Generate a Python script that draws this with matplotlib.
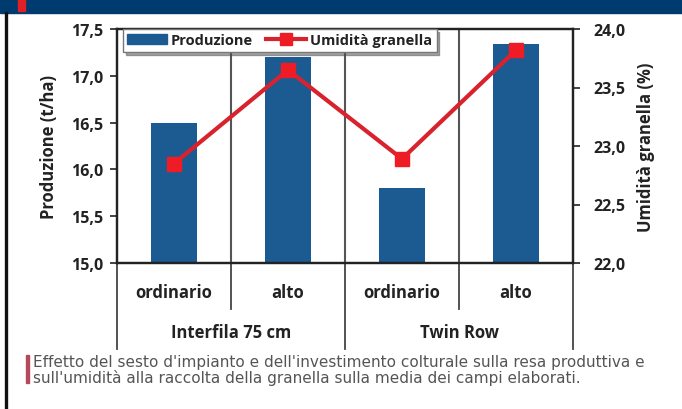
import matplotlib
matplotlib.use("Agg")
from matplotlib import pyplot as plt
from matplotlib.patches import Rectangle, Patch
from matplotlib.lines import Line2D
from matplotlib.ticker import FuncFormatter
import matplotlib.transforms as mtransforms

categories = ["ordinario", "alto", "ordinario", "alto"]
groups = ["Interfila 75 cm", "Twin Row"]
produzione = [16.5, 17.2, 15.8, 17.34]
umidita = [22.85, 23.65, 22.89, 23.82]
left_ticks = [15.0, 15.5, 16.0, 16.5, 17.0, 17.5]
right_ticks = [22.0, 22.5, 23.0, 23.5, 24.0]
caption = ("Effetto del sesto d'impianto e dell'investimento colturale sulla resa produttiva e\n"
           "sull'umidità alla raccolta della granella sulla media dei campi elaborati.")

plt.rcParams['font.family'] = ['Open Sans', 'DejaVu Sans']

W, H = 682, 410
fig = plt.figure(figsize=(W / 100, H / 100), dpi=100)

# top banner and left rule
fig.patches.append(Rectangle((0, 1 - 14 / H), 1, 14 / H, transform=fig.transFigure,
                             color="#003b6f", zorder=0))
fig.patches.append(Rectangle((18 / W, 1 - 12 / H), 7 / W, 12 / H, transform=fig.transFigure,
                             color="#e01f26", zorder=1))
fig.lines.append(Line2D([6 / W, 6 / W], [0, 1 - 14 / H], transform=fig.transFigure,
                        color="#111111", lw=2.4))

ax = fig.add_axes([117 / W, 1 - 264 / H, 456 / W, 234 / H])
x = list(range(len(categories)))
bar_color = "#1c5a92"
line_color = "#d8232e"

ax.bar(x, produzione, width=0.4, color=bar_color, zorder=2)
ax.set_xlim(-0.5, 3.5)
ax.set_ylim(15, 17.5)
ax.set_yticks(left_ticks)
comma = FuncFormatter(lambda v, p: f"{v:.1f}".replace(".", ","))
ax.yaxis.set_major_formatter(comma)
ax.set_xticks([])
for s in ax.spines.values():
    s.set_linewidth(1.6)
    s.set_color("#222222")
ax.tick_params(axis="y", length=5, width=1.2, labelsize=11.5, colors="#222222", pad=5)
for lab in ax.get_yticklabels():
    lab.set_fontweight("bold")
ax.set_ylabel("Produzione (t/ha)", fontsize=12, fontweight="bold", color="#222222", labelpad=9)

for b in [0.5, 1.5, 2.5]:
    ax.axvline(b, color="#555555", lw=1.5, zorder=1)

ax2 = ax.twinx()
ax2.plot(x, umidita, color=line_color, lw=3, marker="s", markersize=10,
         markerfacecolor="#ee1c25", markeredgecolor="#ee1c25", zorder=3)
ax2.set_ylim(22, 24)
ax2.set_yticks(right_ticks)
ax2.yaxis.set_major_formatter(comma)
ax2.tick_params(axis="y", length=5, width=1.2, labelsize=11.5, colors="#222222", pad=10)
for lab in ax2.get_yticklabels():
    lab.set_fontweight("bold")
for s in ax2.spines.values():
    s.set_linewidth(1.6)
    s.set_color("#222222")
ax2.set_ylabel("Umidità granella (%)", fontsize=12, fontweight="bold", color="#222222", labelpad=8)

# category axis below
trans = mtransforms.blended_transform_factory(ax.transData, ax.transAxes)
for b in [-0.5, 1.5, 3.5]:
    ax.plot([b, b], [0, -0.368], transform=trans, color="#444444", lw=1.3, clip_on=False)
for b in [0.5, 2.5]:
    ax.plot([b, b], [0, -0.197], transform=trans, color="#444444", lw=1.3, clip_on=False)
for i, c in enumerate(categories):
    ax.text(i, -0.125, c, transform=trans, ha="center", va="center",
            fontsize=12, fontweight="bold", color="#222222")
for j, g in enumerate(groups):
    ax.text(2 * j + 0.5, -0.295, g, transform=trans, ha="center", va="center",
            fontsize=12, fontweight="bold", color="#222222")

handles = [Patch(color=bar_color),
           Line2D([0], [0], color=line_color, lw=3, marker="s", markersize=8,
                  markerfacecolor="#ee1c25", markeredgecolor="#ee1c25")]
leg = ax2.legend(handles, ["Produzione", "Umidità granella"], loc="upper left",
                 bbox_to_anchor=(0.013, 1.0), ncol=2, frameon=True, fancybox=False,
                 shadow=True, fontsize=10.5, handlelength=2.7, handletextpad=0.3,
                 columnspacing=0.9, borderpad=0.3, borderaxespad=0.0)
leg.get_frame().set_edgecolor("#777777")
leg.get_frame().set_linewidth(1.0)
for t in leg.get_texts():
    t.set_fontweight("bold")
    t.set_color("#222222")

# caption
fig.patches.append(Rectangle((26 / W, 1 - 384 / H), 3 / W, 28 / H, transform=fig.transFigure,
                             color="#b5485a"))
fig.text(33 / W, 1 - 371 / H, caption, ha="left", va="center", fontsize=11,
         color="#555555", linespacing=1.0, family="DejaVu Sans")

fig.savefig("out.png", dpi=100)
